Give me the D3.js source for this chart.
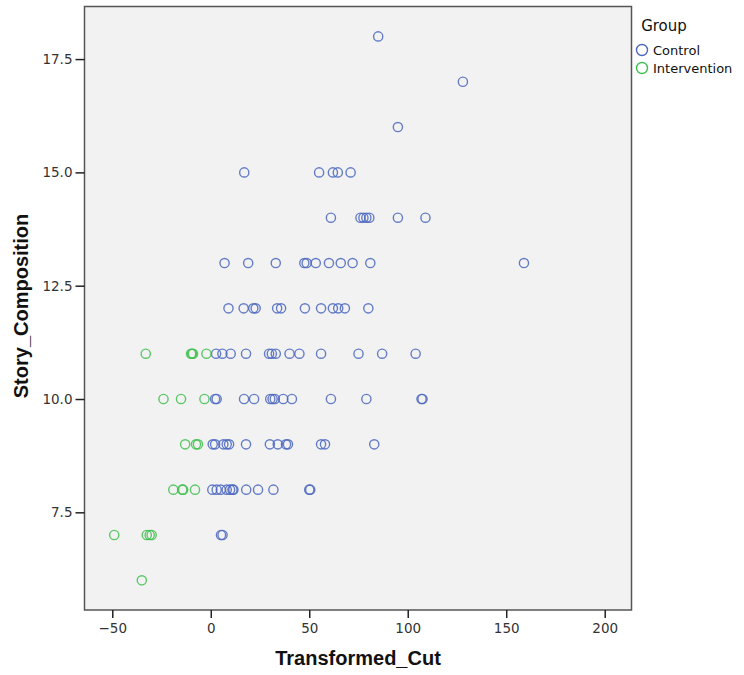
<!DOCTYPE html>
<html lang="en">
<head>
    <meta charset="utf-8">
    <title>Story_Composition vs Transformed_Cut</title>
    <style>
        body { margin: 0; background: #fff; }
        .axis path, .axis line { stroke: #222; }
        .axis text { font-family: "DejaVu Sans", sans-serif; font-size: 13.5px; fill: #333; }
        .title { font-family: "Liberation Sans", sans-serif; font-weight: bold; font-size: 20px; fill: #111; }
        .legend text { font-family: "DejaVu Sans", sans-serif; fill: #111; }
        circle.pt { fill: none; stroke-width: 1.4px; }
    </style>
</head>
<body>
<script src="https://cdn.jsdelivr.net/npm/d3@7"></script>
<script>
    // Control group, one array per Story_Composition score
    const control = {
        18: [85],
        17: [128],
        16: [95],
        15: [17, 55, 62, 64.5, 71],
        14: [61, 76, 77.5, 79, 80.5, 95, 109],
        13: [7, 19, 33, 47.5, 48.7, 53.3, 60, 66, 72, 81, 159],
        12: [9, 16.7, 21.6, 22.8, 33.7, 35.7, 47.8, 56, 62, 64.7, 68.1, 80],
        11: [2.7, 5.9, 10.1, 17.9, 29.6, 31, 33, 40, 45, 56, 75, 87, 104],
        10: [2.2, 3, 16.9, 22, 30.2, 31.4, 32.5, 36.8, 41.2, 61, 79, 107, 107.5],
        9: [1, 2.2, 6.4, 8.1, 9.3, 17.9, 30, 34, 38.2, 39.2, 56, 58, 83],
        8: [0.8, 3, 5.1, 8.1, 9.8, 11, 11.5, 18, 24, 31.8, 50, 50.5],
        7: [5.2, 6]
    };
    const intervention = {
        11: [-33, -10, -9.5, -9, -2.2],
        10: [-24, -15.1, -3.2],
        9: [-13, -7.5, -6.5],
        8: [-19, -14.5, -14, -8],
        7: [-49, -32.5, -31, -30],
        6: [-35]
    };
    const groups = ["Control", "Intervention"];
    const colors = ["#4b67c0", "#3fc04e"];
    const xTicks = [-50, 0, 50, 100, 150, 200];
    const yTicks = [7.5, 10.0, 12.5, 15.0, 17.5];

    const toRows = (obj, g) => Object.entries(obj).flatMap(([y, xs]) => xs.map(x => ({ x: x, y: +y, g: g })));
    const data = toRows(control, 0).concat(toRows(intervention, 1));

    const width = 744, height = 675;
    const plot = { left: 84.5, top: 6.5, right: 631.5, bottom: 610 };

    const x = d3.scaleLinear().domain([-64.1, 213.6]).range([plot.left, plot.right]);
    const y = d3.scaleLinear().domain([5.345, 18.66]).range([plot.bottom, plot.top]);

    const svg = d3.select("body").append("svg")
        .attr("width", width)
        .attr("height", height);

    svg.append("rect")
        .attr("x", plot.left).attr("y", plot.top)
        .attr("width", plot.right - plot.left).attr("height", plot.bottom - plot.top)
        .attr("fill", "#f2f2f2")
        .attr("stroke", "#555").attr("stroke-width", 1.5);

    // axes
    svg.append("g")
        .attr("class", "x axis")
        .attr("transform", `translate(0, ${plot.bottom})`)
        .call(d3.axisBottom(x).tickValues(xTicks).tickSize(8).tickPadding(5).tickSizeOuter(0))
        .call(g => g.select(".domain").remove());

    svg.append("g")
        .attr("class", "y axis")
        .attr("transform", `translate(${plot.left}, 0)`)
        .call(d3.axisLeft(y).tickValues(yTicks).tickFormat(d3.format(".1f")).tickSize(9).tickPadding(3).tickSizeOuter(0))
        .call(g => g.select(".domain").remove());

    svg.selectAll(".axis .tick line").attr("stroke-width", 1.5);

    // points
    svg.append("g")
        .selectAll("circle")
        .data(data)
        .join("circle")
            .attr("class", "pt")
            .attr("cx", d => x(d.x))
            .attr("cy", d => y(d.y))
            .attr("r", 4.6)
            .attr("stroke", d => colors[d.g])
            .attr("stroke-opacity", 0.85);

    // axis titles
    svg.append("text")
        .attr("class", "title")
        .attr("x", 358)
        .attr("y", 665)
        .attr("text-anchor", "middle")
        .text("Transformed_Cut");

    svg.append("text")
        .attr("class", "title")
        .attr("transform", `translate(28, 306) rotate(-90)`)
        .attr("text-anchor", "middle")
        .text("Story_Composition");

    // legend
    const legend = svg.append("g").attr("class", "legend");
    legend.append("text")
        .attr("x", 664).attr("y", 31)
        .attr("text-anchor", "middle")
        .attr("font-size", "15px")
        .text("Group");
    const item = legend.selectAll(".item")
        .data(groups)
        .join("g")
            .attr("class", "item")
            .attr("transform", (d, i) => `translate(642, ${50 + i * 18})`);
    item.append("circle")
        .attr("r", 5.5)
        .attr("fill", "none")
        .attr("stroke-width", 1.4)
        .attr("stroke", (d, i) => colors[i]);
    item.append("text")
        .attr("x", 11).attr("y", 5)
        .attr("font-size", "13px")
        .text(d => d);
</script>
</body>
</html>
